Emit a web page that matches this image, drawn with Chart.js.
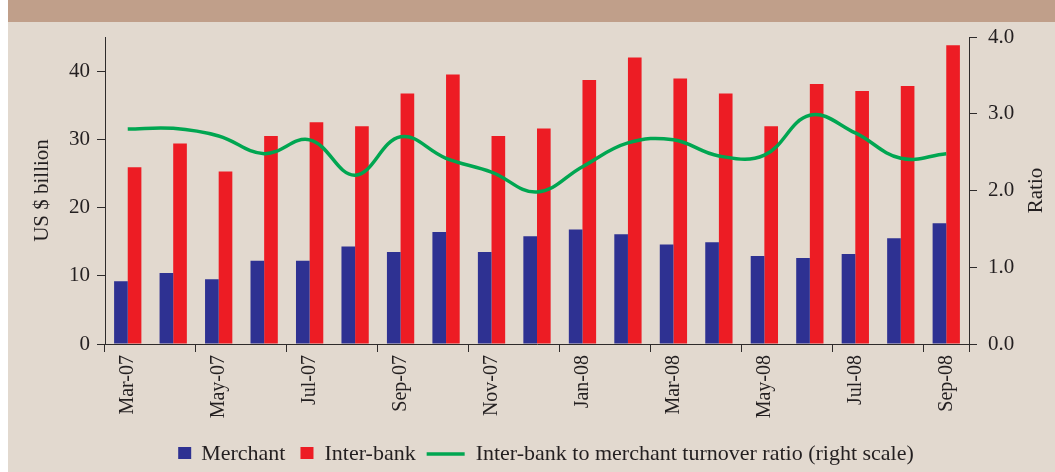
<!DOCTYPE html>
<html><head><meta charset="utf-8">
<script src="https://cdn.jsdelivr.net/npm/chart.js@4/dist/chart.umd.min.js"></script>
<style>html,body{margin:0;padding:0;background:#fff;}canvas{display:block;}</style>
</head><body>
<canvas id="c" width="1055" height="472"></canvas>
<script>
const categories = ['Mar-07','Apr-07','May-07','Jun-07','Jul-07','Aug-07','Sep-07','Oct-07','Nov-07','Dec-07','Jan-08','Feb-08','Mar-08','Apr-08','May-08','Jun-08','Jul-08','Aug-08','Sep-08'];
const merchant = [9.2,10.4,9.5,12.2,12.2,14.3,13.5,16.4,13.5,15.8,16.8,16.1,14.6,14.9,12.9,12.6,13.2,15.5,17.7];
const interbank = [25.9,29.4,25.3,30.5,32.5,31.9,36.7,39.5,30.5,31.6,38.7,42.0,38.9,36.7,31.9,38.1,37.1,37.8,43.8];
const ratio = [2.80,2.81,2.71,2.48,2.66,2.20,2.70,2.42,2.24,1.98,2.31,2.62,2.66,2.45,2.46,2.98,2.75,2.42,2.48];
const leftTickValues = [0,10,20,30,40];
const rightTickValues = [0,1,2,3,4];
const seriesNames = ['Merchant','Inter-bank','Inter-bank to merchant turnover ratio (right scale)'];
const axisTitles = ['US $ billion','Ratio'];

const FONT = "'Liberation Serif', 'Times New Roman', serif";
const TEXT = '#231f20';
const AXIS = '#2e2b2b';
const BLUE = '#2e3192';
const RED = '#ed1c24';
const GREEN = '#00a651';

const decor = {
  id: 'decor',
  beforeDraw(chart) {
    const ctx = chart.ctx;
    ctx.save();
    ctx.fillStyle = '#ffffff';
    ctx.fillRect(0, 0, chart.width, chart.height);
    ctx.fillStyle = '#e2d9cf';
    ctx.fillRect(8, 0, chart.width - 8, chart.height);
    ctx.fillStyle = '#c09f8a';
    ctx.fillRect(8, 0, chart.width - 8, 22);
    ctx.restore();
  },
  afterDraw(chart) {
    const ctx = chart.ctx;
    const area = chart.chartArea;
    ctx.save();
    ctx.fillStyle = TEXT;
    ctx.font = '21px ' + FONT;
    ctx.textAlign = 'center';
    ctx.textBaseline = 'middle';
    const midY = (area.top + area.bottom) / 2;
    ctx.save();
    ctx.translate(42, midY);
    ctx.rotate(-Math.PI / 2);
    ctx.fillText(axisTitles[0], 0, 0);
    ctx.restore();
    ctx.save();
    ctx.translate(1036, midY);
    ctx.rotate(-Math.PI / 2);
    ctx.fillText(axisTitles[1], 0, 0);
    ctx.restore();

    // legend
    ctx.font = '22px ' + FONT;
    ctx.textAlign = 'left';
    ctx.textBaseline = 'alphabetic';
    const w0 = ctx.measureText(seriesNames[0]).width;
    const w1 = ctx.measureText(seriesNames[1]).width;
    const w2 = ctx.measureText(seriesNames[2]).width;
    const total = 13 + 10 + w0 + 15 + 13 + 11 + w1 + 11 + 38 + 11 + w2;
    let x = 546 - total / 2;
    const cy = 453, base = 460;
    ctx.fillStyle = BLUE; ctx.fillRect(x, cy - 6, 13, 12); x += 13 + 10;
    ctx.fillStyle = TEXT; ctx.fillText(seriesNames[0], x, base); x += w0 + 15;
    ctx.fillStyle = RED; ctx.fillRect(x, cy - 6, 13, 12); x += 13 + 11;
    ctx.fillStyle = TEXT; ctx.fillText(seriesNames[1], x, base); x += w1 + 11;
    ctx.strokeStyle = GREEN; ctx.lineWidth = 3.5;
    ctx.beginPath(); ctx.moveTo(x, cy + 1); ctx.lineTo(x + 38, cy + 1); ctx.stroke(); x += 38 + 11;
    ctx.fillStyle = TEXT; ctx.fillText(seriesNames[2], x, base);
    ctx.restore();
  }
};

new Chart(document.getElementById('c'), {
  data: {
    labels: categories,
    datasets: [
      { type: 'line', label: seriesNames[2], data: ratio, yAxisID: 'y1', borderColor: GREEN, borderWidth: 3.5, pointRadius: 0, tension: 0.4, fill: false, order: 0 },
      { type: 'bar', label: seriesNames[0], data: merchant, yAxisID: 'y', backgroundColor: BLUE, categoryPercentage: 0.6, barPercentage: 1.0, order: 1 },
      { type: 'bar', label: seriesNames[1], data: interbank, yAxisID: 'y', backgroundColor: RED, categoryPercentage: 0.6, barPercentage: 1.0, order: 1 }
    ]
  },
  options: {
    responsive: false,
    animation: false,
    devicePixelRatio: 1,
    layout: { padding: { top: 37, left: 0, right: 0, bottom: 0 } },
    plugins: { legend: { display: false }, tooltip: { enabled: false } },
    scales: {
      x: {
        offset: true,
        grid: {
          offset: true, drawOnChartArea: false, tickLength: 8, lineWidth: 1,
          color: (c) => (c.index === undefined || c.index % 2 === 0) ? AXIS : 'rgba(0,0,0,0)'
        },
        border: { color: AXIS, width: 1 },
        ticks: {
          autoSkip: false, maxRotation: 90, minRotation: 90, padding: 3, color: TEXT,
          font: { family: FONT, size: 20 },
          callback: (v, i) => (i % 2 === 0 ? categories[i] : '')
        },
        afterFit: (s) => { s.height = 128; }
      },
      y: {
        position: 'left', min: 0, max: 45,
        afterBuildTicks: (s) => { s.ticks = leftTickValues.map(v => ({ value: v })); },
        ticks: { padding: 7, color: TEXT, font: { family: FONT, size: 21 } },
        grid: { drawOnChartArea: false, tickLength: 8, color: AXIS },
        border: { color: AXIS, width: 1 },
        afterFit: (s) => { s.width = 105; }
      },
      y1: {
        position: 'right', min: 0, max: 4,
        afterBuildTicks: (s) => { s.ticks = rightTickValues.map(v => ({ value: v })); },
        ticks: { padding: 11, color: TEXT, font: { family: FONT, size: 21 }, callback: (v) => Number(v).toFixed(1) },
        grid: { drawOnChartArea: false, tickLength: 8, color: AXIS },
        border: { color: AXIS, width: 1 },
        afterFit: (s) => { s.width = 86; }
      }
    }
  },
  plugins: [decor]
});
</script>
</body></html>
